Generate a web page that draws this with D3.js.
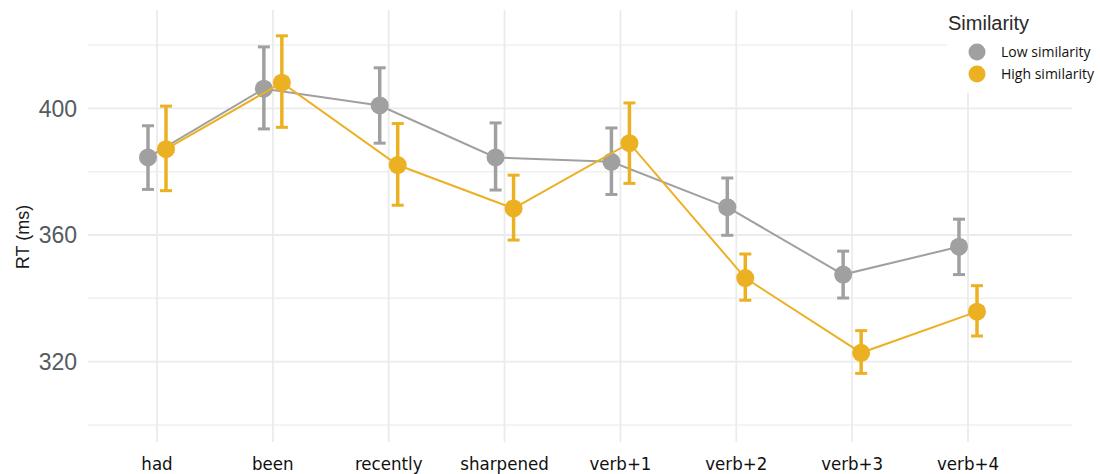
<!DOCTYPE html>
<html>
<head>
<meta charset="utf-8">
<script src="https://cdn.jsdelivr.net/npm/d3@7"></script>
<style>
  body { margin: 0; background: #fff; }
  svg { display: block; }
</style>
</head>
<body>
<div id="plot"></div>
<script>
// data
const words = ['had', 'been', 'recently', 'sharpened', 'verb+1', 'verb+2', 'verb+3', 'verb+4'];
const lowMean = [384.5, 406.2, 400.9, 384.5, 383.1, 368.8, 347.5, 356.3];
const lowHi   = [394.5, 419.4, 412.8, 395.4, 393.8, 378.0, 354.9, 365.0];
const lowLo   = [374.4, 393.5, 389.0, 374.2, 372.8, 359.9, 340.1, 347.5];
const highMean = [387.1, 408.1, 382.1, 368.4, 389.0, 346.4, 322.8, 335.8];
const highHi   = [400.7, 422.9, 395.2, 378.9, 401.7, 354.0, 329.8, 344.0];
const highLo   = [374.0, 394.0, 369.4, 358.4, 376.3, 339.4, 316.3, 328.1];
const yTicks = [320, 360, 400];
const yMinor = [300, 340, 380, 420];
const groups = ['Low similarity', 'High similarity'];

const colors = {'Low similarity': '#a0a0a0', 'High similarity': '#ecb122'};

const W = 1100, H = 474;
const svg = d3.select('#plot').append('svg')
    .attr('width', W).attr('height', H);

const x = d3.scalePoint().domain(words).range([157, 968]);
const y = d3.scaleLinear().domain([300, 420]).range([425, 45]);
const dodge = 9;

// grid
const grid = svg.append('g');
grid.selectAll('.hmin').data(yMinor).enter().append('line')
    .attr('x1', 88).attr('x2', 1072)
    .attr('y1', d => y(d)).attr('y2', d => y(d))
    .attr('stroke', '#f0f0f0').attr('stroke-width', 1.5);
grid.selectAll('.hmaj').data(yTicks).enter().append('line')
    .attr('x1', 88).attr('x2', 1072)
    .attr('y1', d => y(d)).attr('y2', d => y(d))
    .attr('stroke', '#ebebeb').attr('stroke-width', 1.8);
grid.selectAll('.v').data(words).enter().append('line')
    .attr('x1', d => x(d)).attr('x2', d => x(d))
    .attr('y1', 10).attr('y2', 442)
    .attr('stroke', '#ebebeb').attr('stroke-width', 1.8);

// y axis labels
svg.append('g').selectAll('text').data(yTicks).enter().append('text')
    .attr('x', 77).attr('y', d => y(d))
    .attr('dy', '0.36em')
    .attr('text-anchor', 'end')
    .style('font-family', 'Arial, "Liberation Sans", sans-serif')
    .style('font-size', '23px')
    .style('fill', '#555a60')
    .text(d => d);

svg.append('text')
    .attr('transform', 'translate(29,237) rotate(-90)')
    .attr('text-anchor', 'middle')
    .style('font-family', 'Arial, "Liberation Sans", sans-serif')
    .style('font-size', '18px')
    .style('fill', '#1a1a1a')
    .text('RT (ms)');

// x labels
svg.append('g').selectAll('text').data(words).enter().append('text')
    .attr('x', d => x(d)).attr('y', 470)
    .attr('text-anchor', 'middle')
    .style('font-family', '"DejaVu Sans Condensed", "Liberation Sans Narrow", sans-serif')
    .style('font-size', '18.5px')
    .style('fill', '#111')
    .text(d => d);

// series
const series = [
  {name: groups[0], mean: lowMean, hi: lowHi, lo: lowLo, off: -dodge},
  {name: groups[1], mean: highMean, hi: highHi, lo: highLo, off: dodge}
];

const line = d3.line()
    .x(d => d.x)
    .y(d => y(d.v));

series.forEach(s => {
  const pts = words.map((w, i) => ({x: x(w) + s.off, v: s.mean[i], hi: s.hi[i], lo: s.lo[i]}));
  const c = colors[s.name];
  const g = svg.append('g');

  g.append('path').datum(pts)
      .attr('d', line)
      .attr('fill', 'none')
      .attr('stroke', c)
      .attr('stroke-width', 2);

  g.selectAll('.eb').data(pts).enter().append('line')
      .attr('x1', d => d.x).attr('x2', d => d.x)
      .attr('y1', d => y(d.hi)).attr('y2', d => y(d.lo))
      .attr('stroke', c).attr('stroke-width', 3.5);
  g.selectAll('.capT').data(pts).enter().append('line')
      .attr('x1', d => d.x - 6).attr('x2', d => d.x + 6)
      .attr('y1', d => y(d.hi)).attr('y2', d => y(d.hi))
      .attr('stroke', c).attr('stroke-width', 3);
  g.selectAll('.capB').data(pts).enter().append('line')
      .attr('x1', d => d.x - 6).attr('x2', d => d.x + 6)
      .attr('y1', d => y(d.lo)).attr('y2', d => y(d.lo))
      .attr('stroke', c).attr('stroke-width', 3);

  g.selectAll('circle').data(pts).enter().append('circle')
      .attr('cx', d => d.x).attr('cy', d => y(d.v))
      .attr('r', 9)
      .attr('fill', c);
});

// legend
const leg = svg.append('g');
leg.append('rect').attr('x', 947).attr('y', 0).attr('width', 153).attr('height', 93).attr('fill', '#fff');
leg.append('text')
    .attr('x', 948).attr('y', 30)
    .style('font-family', 'Arial, "Liberation Sans", sans-serif')
    .style('font-size', '20px')
    .style('fill', '#2a2a2a')
    .text('Similarity');
leg.selectAll('.item').data(groups).enter().append('g')
    .attr('transform', (d, i) => 'translate(977,' + (52 + i * 22) + ')')
    .each(function (d) {
      const it = d3.select(this);
      it.append('circle').attr('r', 8.5).attr('fill', colors[d]);
      it.append('text')
          .attr('x', 24).attr('dy', '0.35em')
          .style('font-family', '"Open Sans", sans-serif')
          .style('font-size', '14px')
          .style('fill', '#111')
          .text(d);
    });
</script>
</body>
</html>
